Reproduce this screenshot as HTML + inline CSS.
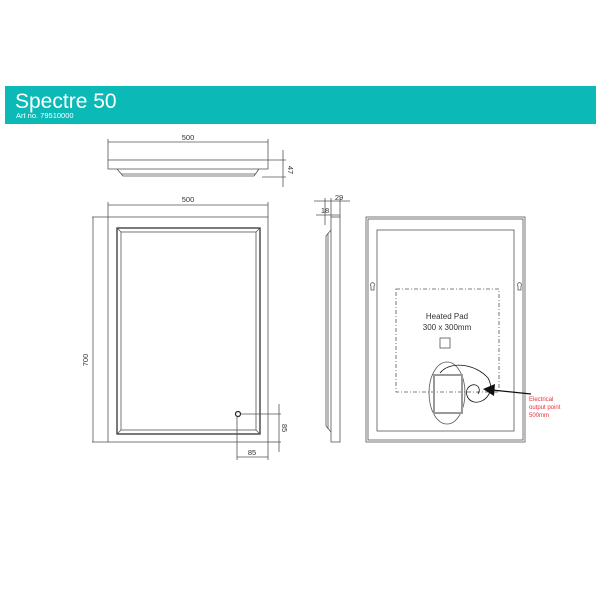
<!DOCTYPE html>
<html><head><style>
body{margin:0;background:#fff;width:600px;height:600px;overflow:hidden;font-family:"Liberation Sans",sans-serif}
</style></head><body>
<svg width="600" height="600" xmlns="http://www.w3.org/2000/svg" font-family="Liberation Sans, sans-serif">
<rect x="5" y="86" width="591" height="38" fill="#0bbab6"/>
<text x="15" y="108" font-size="21" fill="#fff">Spectre 50</text>
<text x="16" y="118" font-size="7.5" fill="#fff">Art no. 79510000</text>
<g stroke="#555" fill="none" stroke-width="0.8">
<line x1="108" y1="142" x2="268" y2="142"/><line x1="108" y1="139" x2="108" y2="160"/><line x1="268" y1="139" x2="268" y2="160"/>
<rect x="108" y="160" width="160" height="9"/>
<path d="M117 169 L123 176 L254 176 L259 169"/><line x1="121" y1="174" x2="256" y2="174"/>
<line x1="268" y1="160" x2="286" y2="160"/><line x1="262" y1="177" x2="286" y2="177"/><line x1="283" y1="150" x2="283" y2="187"/>
<line x1="108" y1="205" x2="268" y2="205"/><line x1="108" y1="202" x2="108" y2="217"/><line x1="268" y1="202" x2="268" y2="217"/>
<rect x="108" y="217" width="160" height="225"/>
<rect x="117" y="228" width="143" height="206" stroke="#222" stroke-width="1.2"/>
<rect x="121" y="232" width="135" height="198"/>
<line x1="117" y1="228" x2="121" y2="232"/><line x1="260" y1="228" x2="256" y2="232"/><line x1="117" y1="434" x2="121" y2="430"/><line x1="260" y1="434" x2="256" y2="430"/>
<line x1="92" y1="217" x2="108" y2="217"/><line x1="92" y1="442" x2="108" y2="442"/><line x1="93" y1="217" x2="93" y2="442"/>
<circle cx="238" cy="414" r="2.5" stroke="#222" stroke-width="1.2"/>
<line x1="240" y1="414" x2="281" y2="414"/><line x1="268" y1="442" x2="281" y2="442"/><line x1="279" y1="404" x2="279" y2="452"/>
<line x1="237" y1="416" x2="237" y2="460"/><line x1="268" y1="442" x2="268" y2="460"/><line x1="237" y1="457" x2="268" y2="457"/>
<line x1="314" y1="201" x2="350" y2="201"/><line x1="316" y1="215" x2="340" y2="215"/>
<line x1="325" y1="198" x2="325" y2="225"/><line x1="331" y1="198" x2="331" y2="217"/><line x1="340" y1="198" x2="340" y2="217"/>
<rect x="331" y="217" width="9" height="225"/>
<path d="M331 230 L326 236 L326 426 L331 432"/><line x1="328" y1="233" x2="328" y2="429"/>
<rect x="366" y="217" width="159" height="225"/>
<rect x="368" y="219" width="155" height="221"/>
<rect x="377" y="230" width="137" height="201"/>
<rect x="396" y="289" width="103" height="103" stroke-dasharray="4,2,1,2"/>
<rect x="440" y="338" width="10" height="10"/>
<ellipse cx="447" cy="393" rx="18" ry="31"/>
<rect x="434" y="375" width="28" height="38" stroke="#999" stroke-width="2"/>
<path d="M440 373 C450 360 476 364 488 378 C496 392 484 404 474 402 C466 400 464 390 470 386 C476 382 482 388 478 394" stroke="#111"/>
<path d="M371 286 a2 2 0 1 1 3 0 l0 4 l-3 0 z M518 286 a2 2 0 1 1 3 0 l0 4 l-3 0 z"/>
</g>
<line x1="531" y1="394" x2="492" y2="390" stroke="#111" stroke-width="1.2"/>
<path d="M483 389 L495 384 L494 396 Z" fill="#111"/>
<g font-size="7.5" fill="#333" text-anchor="middle">
<text x="188" y="140">500</text><text x="188" y="202">500</text>
<text x="339" y="200">29</text><text x="325" y="213">18</text>
<text x="252" y="455">85</text>
<text transform="translate(288,170) rotate(90)">47</text>
<text transform="translate(88,360) rotate(-90)">700</text>
<text transform="translate(282,428) rotate(90)">85</text>
<text x="447" y="319" font-size="8">Heated Pad</text>
<text x="447" y="330" font-size="8">300 x 300mm</text>
</g>
<g font-size="6" fill="#e8303a"><text x="529" y="401">Electrical</text><text x="529" y="409">output point</text><text x="529" y="417">500mm</text></g>
</svg>
</body></html>
